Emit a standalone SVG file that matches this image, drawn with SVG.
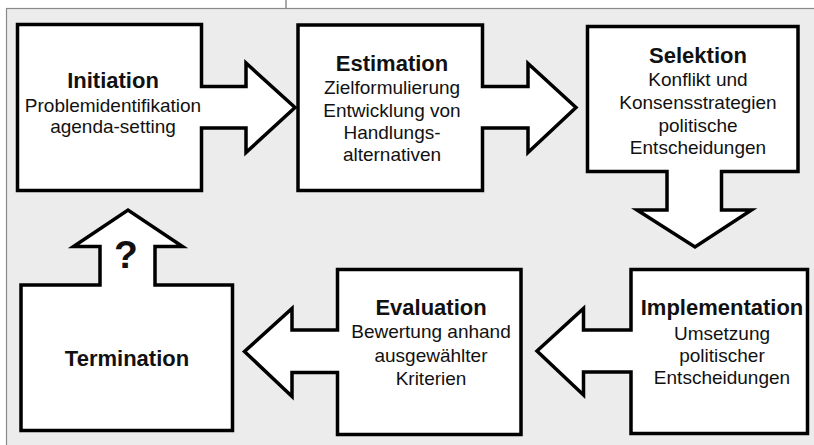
<svg xmlns="http://www.w3.org/2000/svg" width="814" height="445" viewBox="0 0 814 445">
<style>
.bg{fill:#ececec;stroke:#8a8a8a;stroke-width:1.2}
.node{fill:#ffffff;stroke:#000000;stroke-width:3.5;stroke-linejoin:miter}
.t{font-family:"Liberation Sans",Arial,sans-serif;font-weight:bold;font-size:22px;fill:#111;text-anchor:middle}
.s{font-family:"Liberation Sans",Arial,sans-serif;font-size:19px;fill:#111;text-anchor:middle}
.q{font-family:"Liberation Sans",Arial,sans-serif;font-weight:bold;font-size:39px;fill:#111;text-anchor:middle}
</style>
<rect width="814" height="445" fill="#ffffff"/>
<line x1="286" y1="0" x2="286" y2="9" stroke="#555" stroke-width="1"/>
<rect class="bg" x="6.5" y="8.5" width="812" height="445"/>
<g id="connectors"></g>
<g id="initiation">
<polygon class="node" points="17.5,24.5 201.5,24.5 201.5,86.5 246,86.5 246,63 295,107.5 246,152.5 246,128 201.5,128 201.5,190.5 17.5,190.5"/>
<text class="t" x="113" y="88">Initiation</text>
<text class="s" x="113" y="112">Problemidentifikation</text>
<text class="s" x="113" y="133">agenda-setting</text>
</g>
<g id="estimation">
<polygon class="node" points="298,25 482.5,25 482.5,86.5 528,86.5 528,63.5 576,107.5 528,152.5 528,128 482.5,128 482.5,190.5 298,190.5"/>
<text class="t" x="392" y="71">Estimation</text>
<text class="s" x="392" y="94">Zielformulierung</text>
<text class="s" x="392" y="117">Entwicklung von</text>
<text class="s" x="392" y="139">Handlungs-</text>
<text class="s" x="392" y="161">alternativen</text>
</g>
<g id="selektion">
<polygon class="node" points="587.5,26.5 798,26.5 798,171.5 721.5,171.5 721.5,210 751.5,210 695,247 637,210 667,210 667,171.5 587.5,171.5"/>
<text class="t" x="698" y="63">Selektion</text>
<text class="s" x="698" y="86">Konflikt und</text>
<text class="s" x="698" y="109">Konsensstrategien</text>
<text class="s" x="698" y="132">politische</text>
<text class="s" x="698" y="154">Entscheidungen</text>
</g>
<g id="implementation">
<polygon class="node" points="631,269.5 807.5,269.5 807.5,433.5 631,433.5 631,372 583.5,372 583.5,395 537,351 583.5,308.5 583.5,330 631,330"/>
<text class="t" x="722" y="315">Implementation</text>
<text class="s" x="722" y="340">Umsetzung</text>
<text class="s" x="722" y="362">politischer</text>
<text class="s" x="722" y="384">Entscheidungen</text>
</g>
<g id="evaluation">
<polygon class="node" points="337.5,269.5 521,269.5 521,434.5 337.5,434.5 337.5,372.5 292,372.5 292,396.5 244.5,351.5 292,308.5 292,330 337.5,330"/>
<text class="t" x="431" y="315">Evaluation</text>
<text class="s" x="431" y="338">Bewertung anhand</text>
<text class="s" x="431" y="362">ausgewählter</text>
<text class="s" x="431" y="385">Kriterien</text>
</g>
<g id="termination">
<polygon class="node" points="21,285 100,285 100,246.5 73.5,246.5 128,210 182.5,246.5 155,246.5 155,285 232.5,285 232.5,430.5 21,430.5"/>
<text class="q" x="126" y="268">?</text>
<text class="t" x="127" y="366">Termination</text>
</g>
</svg>
